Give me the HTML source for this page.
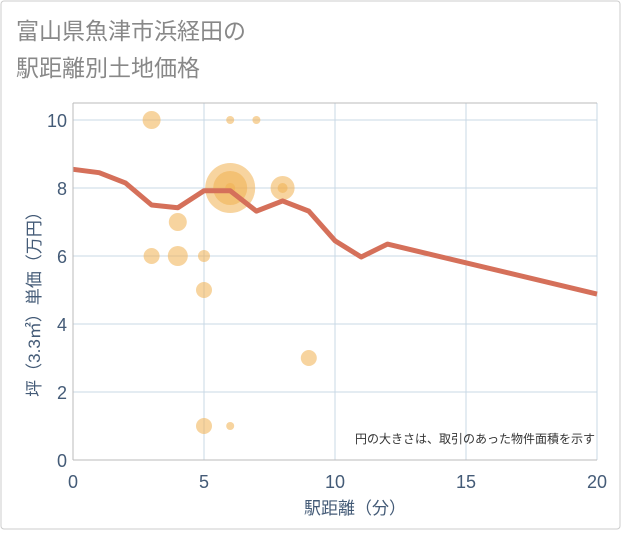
<!DOCTYPE html>
<html><head><meta charset="utf-8"><style>
body{margin:0;background:#fff;}
svg text{font-family:"Liberation Sans","Noto Sans CJK JP",sans-serif;}
</style></head><body>
<svg width="621" height="530">
<rect x="1" y="1" width="619" height="528" fill="#fff" stroke="#ccc" rx="3"/>
<text x="16" y="39" font-size="23" fill="#888">富山県魚津市浜経田の</text>
<text x="16" y="76" font-size="23" fill="#888">駅距離別土地価格</text>
<rect x="73" y="103" width="524" height="357" fill="#fff"/>
<g id="grid"></g>
<line x1="73" y1="103" x2="597" y2="103" stroke="#bbb"/>
<g id="bubbles"></g>
<path id="line" fill="none" stroke="#d5705a" stroke-width="5" stroke-linejoin="round"/>
<line x1="73" y1="103" x2="73" y2="460" stroke="#bbb"/>
<line x1="73" y1="460" x2="597" y2="460" stroke="#bbb"/>
<g id="ticks"></g>
<text x="595" y="443" font-size="12" fill="#333" text-anchor="end">円の大きさは、取引のあった物件面積を示す</text>
<text x="355" y="514" font-size="17" fill="#445b77" text-anchor="middle">駅距離（分）</text>
<text transform="translate(40,300) rotate(-90)" font-size="17" fill="#445b77" text-anchor="middle">坪（3.3㎡）単価（万円）</text>
</svg>
<script>
const xTicks=[0,5,10,15,20];
const yTicks=[0,2,4,6,8,10];
const lineX=[0,1,2,3,4,5,6,7,8,9,10,11,12,20];
const lineY=[8.55,8.45,8.15,7.5,7.42,7.92,7.92,7.32,7.62,7.32,6.45,5.97,6.35,4.88];
const bubX=[3,6,7,6,6,6,8,8,4,3,4,5,5,9,5,6];
const bubY=[10,10,10,8,8,8,8,8,7,6,6,6,5,3,1,1];
const bubR=[9,4,4,25,17,5,12,5,9,8,10,6,8,8,8,4];
const X=v=>73+v*524/20, Y=v=>460-v*34;
const NS="http://www.w3.org/2000/svg";
const grid=document.getElementById('grid'),ticks=document.getElementById('ticks'),bub=document.getElementById('bubbles');
function mk(tag,at,parent){const e=document.createElementNS(NS,tag);for(const k in at)e.setAttribute(k,at[k]);parent.appendChild(e);return e;}
xTicks.forEach(t=>{
 const l=mk('line',{x1:X(t),x2:X(t),y1:103,y2:460,stroke:'#c9d8e6'},grid);
 
 
 const tx=mk('text',{x:X(t),y:488,'font-size':18,fill:'#445b77','text-anchor':'middle'},ticks);
 tx.textContent=t;
 
 
});
yTicks.forEach(t=>{
 const l=mk('line',{x1:73,x2:597,y1:Y(t),y2:Y(t),stroke:'#c9d8e6'},grid);
 
 
 const tx=mk('text',{x:67,y:Y(t)+7,'font-size':18,fill:'#445b77','text-anchor':'end'},ticks);
 tx.textContent=t;
 
 
});
bubX.forEach((v,i)=>{
 const c=mk('circle',{cx:X(v),cy:Y(bubY[i]),r:bubR[i],fill:'#f0b050','fill-opacity':0.55},bub);
 
 
});
document.getElementById('line').setAttribute('d',lineX.map((v,i)=>(i?'L':'M')+X(v)+','+Y(lineY[i])).join(''));
</script>
</body></html>
